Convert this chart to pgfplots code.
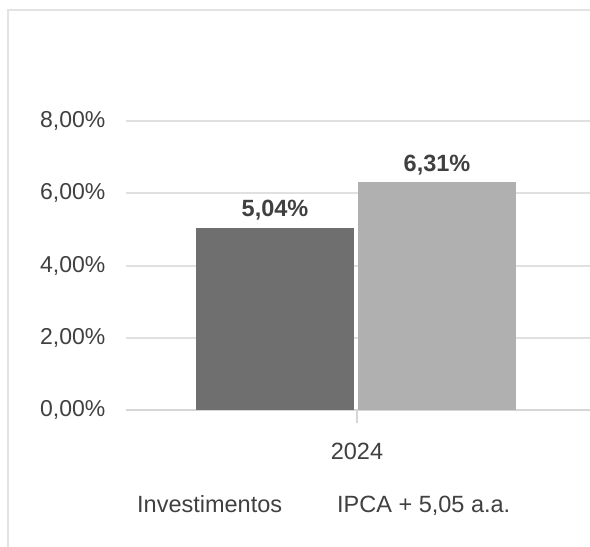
\documentclass[border=0pt]{standalone}
\usepackage{pgfplots}
\pgfplotsset{compat=1.18}
\usepackage{fontspec}
\setmainfont{Liberation Sans}

\definecolor{bardark}{HTML}{6F6F6F}
\definecolor{barlight}{HTML}{B0B0B0}
\definecolor{gridgray}{HTML}{E0E0E0}
\definecolor{basegray}{HTML}{D6D6D6}
\definecolor{framegray}{HTML}{E3E3E3}
\definecolor{txt}{HTML}{404040}

\newcommand{\chartfont}{\fontsize{23.5bp}{28bp}\selectfont}
\newcommand{\tickfont}{\fontsize{23bp}{27bp}\selectfont}

\begin{document}
\begin{tikzpicture}
\path[use as bounding box] (0,0) rectangle (590bp,547bp);
% light frame, top and left
\draw[framegray, line width=2.5bp] (8bp,0) -- (8bp,537bp) -- (590bp,537bp);

\begin{axis}[
    at={(126bp,137bp)}, anchor=south west,
    scale only axis, width=464bp, height=289bp,
    xmin=0, xmax=464, ymin=0, ymax=8,
    ybar, bar width=158bp,
    axis x line=bottom, axis y line=left,
    x axis line style={-, draw=basegray, line width=2.5bp},
    y axis line style={draw=none},
    ymajorgrids, grid style={draw=gridgray, line width=2bp},
    ytick={0,2,4,6,8},
    yticklabels={{0,00\%},{2,00\%},{4,00\%},{6,00\%},{8,00\%}},
    ytick style={draw=none},
    yticklabel style={font=\tickfont, text=txt, inner sep=0pt, xshift=-14bp},
    xtick={231}, xticklabels={2024},
    xtick align=outside, major tick length=13bp,
    xtick style={draw=basegray, line width=1.5bp},
    xticklabel style={font=\chartfont, text=txt, inner sep=0pt, anchor=base, yshift=-36bp},
    /pgf/number format/assume math mode=true,
    nodes near coords={\pgfmathprintnumber[fixed, fixed zerofill, precision=2, use comma]{\pgfplotspointmeta}\%},
    every node near coord/.append style={font=\chartfont\bfseries, text=txt, inner sep=0pt, anchor=base, yshift=11bp},
    legend columns=2,
    legend style={draw=none, fill=none, font=\chartfont, text=txt,
        at={(6bp,-95bp)}, anchor=west,
        /tikz/every even column/.append style={column sep=51bp}},
    legend image code/.code={},
    clip=false,
]
\addplot[fill=bardark, draw=none, bar shift=0pt] coordinates {(149,5.04)};
\addplot[fill=barlight, draw=none, bar shift=0pt] coordinates {(311,6.31)};
\legend{Investimentos, {IPCA + 5,05 a.a.}}
\end{axis}
\end{tikzpicture}
\end{document}
